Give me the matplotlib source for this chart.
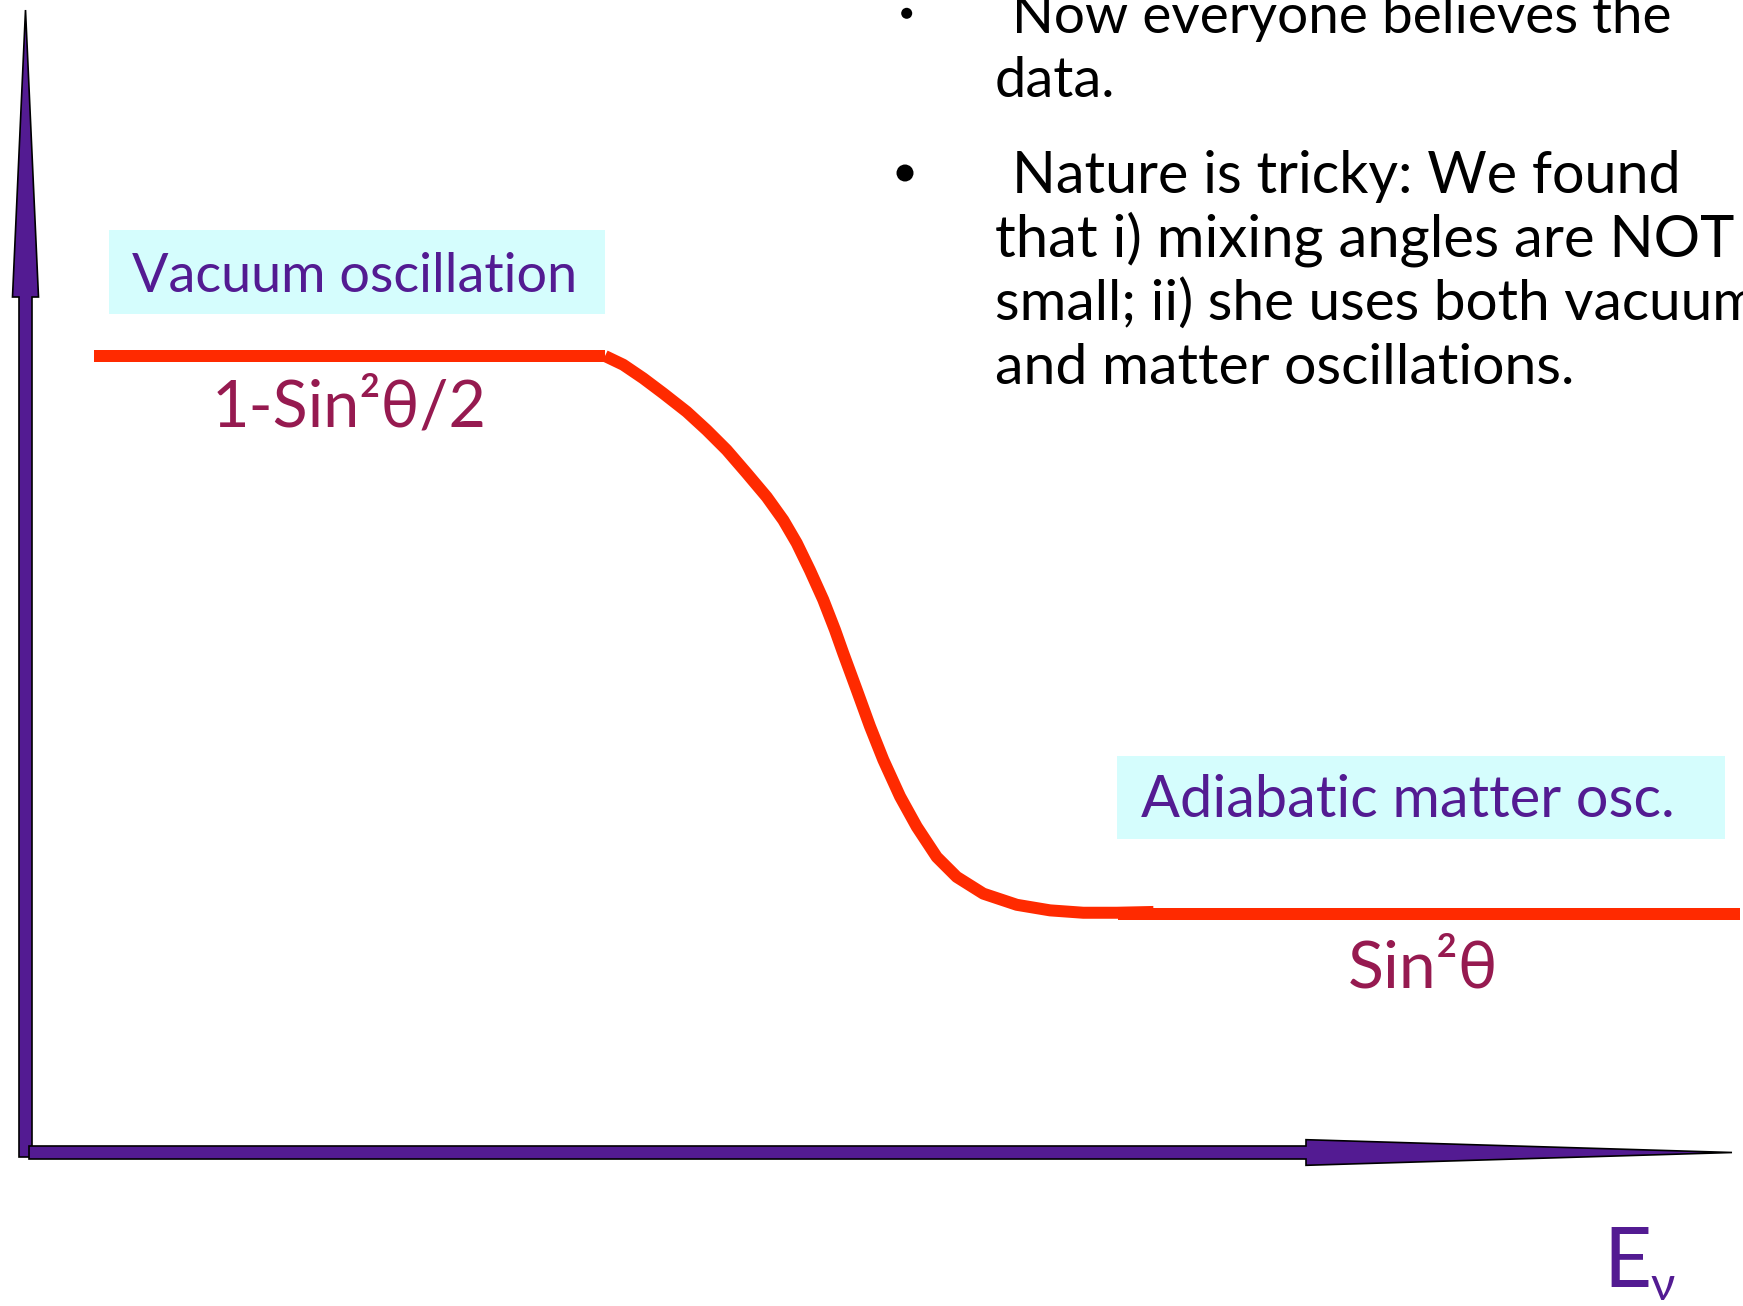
import matplotlib
matplotlib.use("Agg")
import matplotlib.pyplot as plt
from matplotlib import font_manager
from matplotlib.patches import Polygon, Rectangle, Circle
from matplotlib.transforms import Affine2D

# ---------------- data (schematic survival probability vs E_nu) ----------------
vacuum_level = 1.0            # 1 - sin^2(theta)/2  (normalised)
matter_level = 0.30           # sin^2(theta)
vacuum_x = [0.40, 3.396]
transition_x = [3.396, 3.503, 3.620, 3.738, 3.875, 3.992, 4.109, 4.226, 4.344, 4.441,
                4.520, 4.597, 4.675, 4.744, 4.792, 4.871, 4.949, 5.027, 5.125, 5.223,
                5.340, 5.457, 5.613, 5.809, 6.004, 6.199, 6.395, 6.61]
transition_y = [1.000, 0.989, 0.972, 0.953, 0.930, 0.907, 0.882, 0.853, 0.823, 0.794,
                0.765, 0.731, 0.694, 0.656, 0.627, 0.581, 0.535, 0.493, 0.447, 0.409,
                0.371, 0.346, 0.325, 0.311, 0.304, 0.301, 0.301, 0.302]
matter_x = [6.40, 10.05]

region_labels = ["Vacuum oscillation", "Adiabatic matter osc."]
level_labels = ["1-Sin²θ/2", "Sin²θ"]
axis_label_main = "E"
axis_label_sub = "ν"
bullet_1 = ["Now everyone believes the", "data."]
bullet_2 = ["Nature is tricky: We found", "that i) mixing angles are NOT",
            "small; ii) she uses both vacuum", "and matter oscillations."]

# ---------------- styling ----------------
W, H, DPI = 1743, 1306, 100
PURPLE = "#531B92"
RED = "#FF2A00"
MAGENTA = "#961A50"
CYAN = "#D5FDFD"

names = {f.name for f in font_manager.fontManager.ttflist}
FONT = "Liberation Sans Narrow" if "Liberation Sans Narrow" in names else "Lato"
plt.rcParams["font.family"] = [FONT, "DejaVu Sans"]

fig = plt.figure(figsize=(W / DPI, H / DPI), dpi=DPI)
fig.patch.set_facecolor("white")

# data axes covering the whole figure; origin at the drawn axis corner
kx, ky = 170.64, 796.5
x0, y0 = 25.5, 1152.5
ax = fig.add_axes([0, 0, 1, 1])
ax.set_xlim(-x0 / kx, (W - x0) / kx)
ax.set_ylim((y0 - H) / ky, y0 / ky)
ax.axis("off")

# pixel transform (top-left origin) for decorations
pix = Affine2D().scale(1.0 / W, -1.0 / H).translate(0, 1) + fig.transFigure

# boxes
ax.add_patch(Rectangle((109, 230), 496, 84, transform=pix, facecolor=CYAN, edgecolor="none", zorder=1))
ax.add_patch(Rectangle((1117, 756), 608, 83, transform=pix, facecolor=CYAN, edgecolor="none", zorder=1))

# axis arrows
vert = [(19, 1157), (32, 1157), (32, 297), (38.5, 297), (25.5, 10), (12.5, 297), (19, 297)]
horiz = [(29, 1146), (29, 1159), (1306, 1159), (1306, 1165.3), (1732, 1152.5), (1306, 1139.7), (1306, 1146)]
for poly in (vert, horiz):
    ax.add_patch(Polygon(poly, closed=True, transform=pix, facecolor=PURPLE,
                         edgecolor="black", linewidth=1.2, joinstyle="miter", zorder=3))

# curve
lw = 12 * 72 / DPI
ax.plot(vacuum_x, [vacuum_level] * 2, color=RED, lw=lw, solid_capstyle="butt", zorder=4)
ax.plot(transition_x, transition_y, color=RED, lw=lw, solid_capstyle="butt",
        solid_joinstyle="round", zorder=4)
ax.plot(matter_x, [matter_level] * 2, color=RED, lw=lw, solid_capstyle="butt", zorder=4)

# texts
def txt(x, y, s, color, size=30, **kw):
    return ax.text(x, y, s, transform=pix, color=color, fontsize=size,
                   ha="left", va="baseline", zorder=5, **kw)

t_vac = txt(131.7, 292, region_labels[0], PURPLE)
t_adi = txt(1141, 817, region_labels[1], PURPLE)
t_lv1 = txt(212, 427, level_labels[0], MAGENTA)
t_lv2 = txt(1348, 987, level_labels[1], MAGENTA)
t_E = txt(1603, 1287, axis_label_main, PURPLE, size=60)
t_nu = txt(1650, 1300, axis_label_sub, PURPLE, size=34)

bl = []
bl.append(txt(1011.7, 33.3, bullet_1[0], "black"))
bl.append(txt(995, 96.7, bullet_1[1], "black"))
base2 = [193, 256.5, 320, 383.5]
lefts2 = [1011.7, 995, 995, 995]
for s, y, x in zip(bullet_2, base2, lefts2):
    bl.append(txt(x, y, s, "black"))

ax.add_patch(Circle((906.7, 13.3), 5.5, transform=pix, facecolor="black", edgecolor="none", zorder=5))
ax.add_patch(Circle((905, 173), 8.5, transform=pix, facecolor="black", edgecolor="none", zorder=5))

fig.canvas.draw()
r = fig.canvas.get_renderer()

def width(t):
    return t.get_window_extent(renderer=r).width

def fit(t, w):
    t.set_fontsize(t.get_fontsize() * w / width(t))

fit(t_vac, 446)
fit(t_adi, 533)
fit(t_lv1, 275)
fit(t_lv2, 150)

# bullet text: fit each measurable line; the clipped one uses the mean size
targets = {0: 659, 1: 120, 2: 669, 3: 739, 5: 578}
sizes = []
for i, w in targets.items():
    fit(bl[i], w)
    sizes.append(bl[i].get_fontsize())
bl[4].set_fontsize(sum(sizes) / len(sizes))

fig.savefig("out.png", dpi=DPI, facecolor="white")
